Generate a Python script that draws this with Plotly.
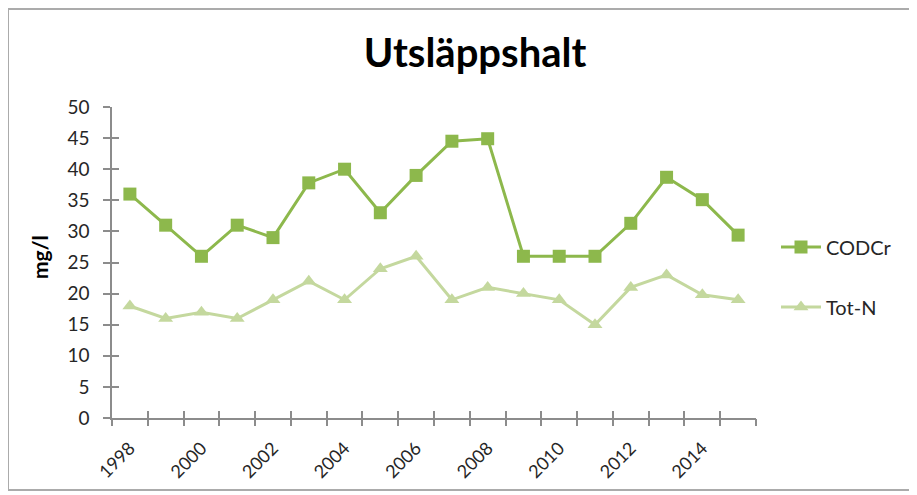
import plotly.graph_objects as go

years = list(range(1998, 2016))
codcr = [36, 31, 26, 31, 29, 37.8, 40, 33, 39, 44.5, 44.9, 26, 26, 26, 31.3, 38.7, 35.1, 29.4]
totn = [18, 16, 17, 16, 19, 22, 19, 24, 26, 19, 21, 20, 19, 15, 21, 23, 19.8, 19]
label_years = years[::2]  # 1998..2014
tick_labels = [str(y) for y in label_years]
y_ticks = list(range(0, 51, 5))

FONT = "Lato"
AX_COL = "#8C8C8C"
TXT = "#262626"

OFF = 8  # page body margin
W, H = 917 - OFF, 495 - OFF
# plot area in reference pixel coordinates
PL, PR, PT, PB = 112, 756, 107, 418
L, R, T, B = PL - OFF, W - (PR - OFF), PT - OFF, H - (PB - OFF)
PW, PH = PR - PL, PB - PT

def px_x(p):
    return (p - PL) / PW

def px_y(p):
    return (PB - p) / PH

boundaries = [y - 0.5 for y in years] + [years[-1] + 0.5]
xr = [boundaries[0], boundaries[-1]]
yr = [0, 50]

fig = go.Figure()
fig.add_trace(go.Scatter(
    x=years, y=codcr, name="CODCr", mode="lines+markers",
    line=dict(color="#8DB84C", width=3),
    marker=dict(symbol="square", size=13, color="#8DB84C"),
    legendgroup="a",
))
fig.add_trace(go.Scatter(
    x=years, y=totn, name="Tot-N", mode="lines+markers",
    line=dict(color="#C4D89E", width=3),
    marker=dict(symbol="triangle-up", size=13, color="#C4D89E"),
    legendgroup="b",
))
# empty helper traces so the overlay axes (cross tick marks) get drawn
for xa, ya in [("x2", "y"), ("x3", "y"), ("x", "y2")]:
    fig.add_trace(go.Scatter(x=[], y=[], xaxis=xa, yaxis=ya, showlegend=False,
                             hoverinfo="skip", mode="lines"))

fig.update_layout(
    width=W, height=H,
    margin=dict(l=L, r=R, t=T, b=B, autoexpand=False),
    paper_bgcolor="white", plot_bgcolor="white",
    font=dict(family=FONT, color=TXT, size=17),
    title=dict(text="<b>Utsläppshalt</b>", x=(475 - OFF) / W, xanchor="center",
               y=1 - (53 - OFF) / H, yanchor="middle",
               font=dict(family=FONT, size=40, color="#000000")),
    showlegend=True,
    legend=dict(x=px_x(776), y=px_y(277), xanchor="left", yanchor="middle",
                font=dict(family=FONT, size=20, color=TXT),
                tracegroupgap=31, bgcolor="rgba(0,0,0,0)", itemwidth=40),
    xaxis=dict(range=xr, tickmode="array", tickvals=label_years, ticktext=tick_labels,
               tickangle=-45, ticks="", showline=True, linecolor=AX_COL, linewidth=1.5,
               showgrid=False, zeroline=False, ticklabelstandoff=11,
               tickfont=dict(family=FONT, size=18, color=TXT)),
    xaxis2=dict(range=xr, overlaying="x", anchor="y", side="bottom", tickmode="array",
                tickvals=boundaries, ticks="outside", ticklen=7, tickcolor=AX_COL,
                tickwidth=1.5, showticklabels=False, showline=False, showgrid=False,
                zeroline=False),
    xaxis3=dict(range=xr, overlaying="x", anchor="y", side="bottom", tickmode="array",
                tickvals=boundaries, ticks="inside", ticklen=7, tickcolor=AX_COL,
                tickwidth=1.5, showticklabels=False, showline=False, showgrid=False,
                zeroline=False),
    yaxis=dict(range=yr, tickmode="array", tickvals=y_ticks, ticks="outside", ticklen=7,
               tickcolor=AX_COL, tickwidth=1.5, showline=True, linecolor=AX_COL,
               linewidth=1.5, showgrid=False, zeroline=False, ticklabelstandoff=10,
               tickfont=dict(family=FONT, size=19, color=TXT)),
    yaxis2=dict(range=yr, overlaying="y", anchor="x", side="left", tickmode="array",
                tickvals=y_ticks, ticks="inside", ticklen=7, tickcolor=AX_COL,
                tickwidth=1.5, showticklabels=False, showline=False, showgrid=False,
                zeroline=False),
)

fig.add_annotation(text="<b>mg/l</b>", xref="paper", yref="paper",
                   x=px_x(39), y=px_y(257), xanchor="center", yanchor="middle",
                   textangle=-90, showarrow=False,
                   font=dict(family=FONT, size=21, color="#000000"))

fig.add_shape(type="rect", xref="paper", yref="paper",
              x0=px_x(8), x1=px_x(935), y0=px_y(490), y1=px_y(9),
              line=dict(color="#ABABAB", width=2), layer="below")

fig.write_html("out.html")
